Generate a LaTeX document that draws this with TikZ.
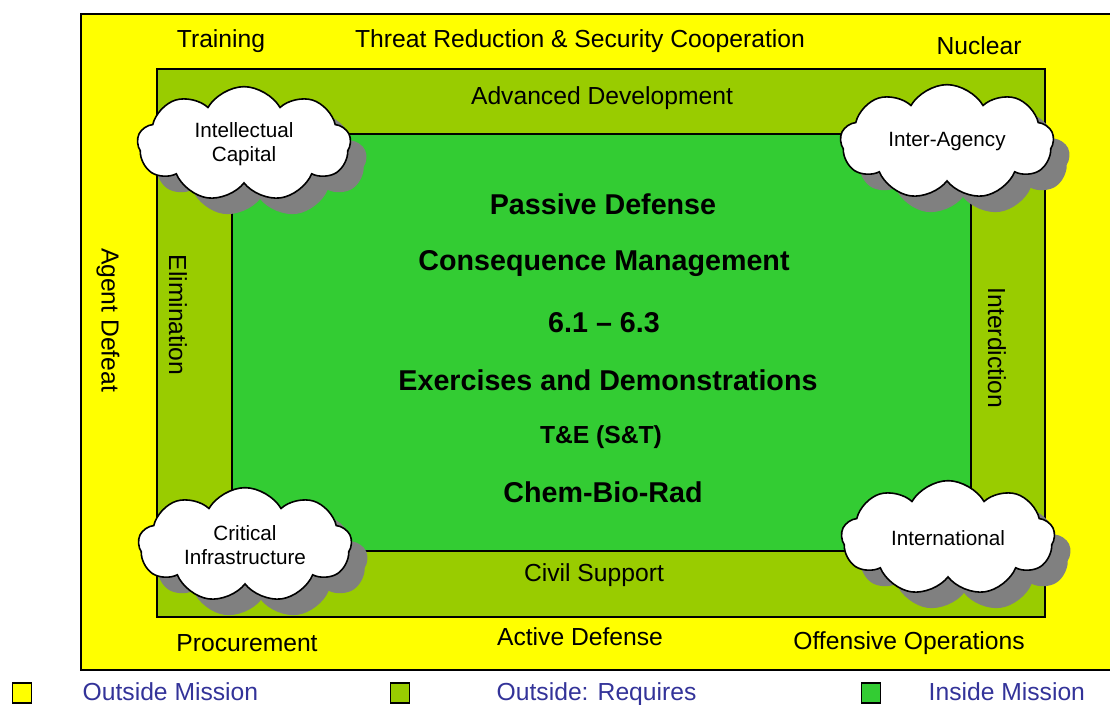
\documentclass[tikz,border=0pt]{standalone}
\usepackage{fontspec}
\setmainfont{Liberation Sans}
\usetikzlibrary{shapes.symbols, shadows, positioning}
\definecolor{outerYellow}{RGB}{255, 255, 0}
\definecolor{midGreen}{RGB}{153, 204, 0}
\definecolor{innerGreen}{RGB}{51, 204, 51}
\definecolor{legendBlue}{RGB}{51, 51, 153}
\definecolor{shadowGray}{RGB}{128, 128, 128}
\tikzset{
    ring_box/.style={
        draw=black,
        line width=1.5pt
    },
    ring_label/.style={
        text=black,
        font=\fontsize{18.5}{20}\selectfont
    },
    core_label/.style={
        text=black,
        font=\fontsize{21.5}{24}\selectfont\bfseries
    },
    cloud_node/.style={
        cloud,
        cloud puffs=9,
        cloud puff arc=120,
        cloud ignores aspect,
        draw=black,
        line width=1.2pt,
        fill=white,
        align=center,
        minimum width=160pt,
        minimum height=86pt,
        font=\fontsize{15.5}{18}\selectfont,
        drop shadow={shadow xshift=12pt, shadow yshift=-12pt, fill=shadowGray, opacity=1}
    },
    legend_key/.style={
        draw=black,
        line width=1pt,
        minimum width=14pt,
        minimum height=15pt,
        inner sep=0pt
    },
    legend_text/.style={
        text=legendBlue,
        anchor=base west,
        font=\fontsize{18.5}{20}\selectfont
    }
}

\begin{document}
\begin{tikzpicture}[x=0.75pt, y=-0.75pt]
    \useasboundingbox (0, 0) rectangle (1110, 704);
    \begin{scope}
        \clip (0, 0) rectangle (1110, 704);
        % the three rings
        \draw[ring_box, line width=2.2pt, fill=outerYellow] (81, 14) rectangle (1116, 670);
        \draw[ring_box, fill=midGreen] (157, 69) rectangle (1045, 617);
        \draw[ring_box, fill=innerGreen] (232, 134) rectangle (971, 551);
    \end{scope}

    % outside mission
    \node[ring_label] (training) at (221, 41) {Training};
    \node[ring_label] (threat) at (580, 41) {Threat Reduction \& Security Cooperation};
    \node[ring_label] (nuclear) at (979, 46) {Nuclear};
    \node[ring_label, rotate=-90] (agent) at (108, 320) {Agent Defeat};
    \node[ring_label] (procure) at (247, 643) {Procurement};
    \node[ring_label] (active) at (580, 637) {Active Defense};
    \node[ring_label] (offense) at (909, 643) {Offensive Operations};

    % outside: requires
    \node[ring_label] (advanced) at (602, 98) {Advanced Development};
    \node[ring_label, rotate=-90] (elim) at (178, 315) {Elimination};
    \node[ring_label, rotate=-90] (interdict) at (997, 348) {Interdiction};
    \node[ring_label] (civil) at (594, 575) {Civil Support};

    % inside mission
    \node[core_label] (passive) at (603, 204) {Passive Defense};
    \node[core_label] (conseq) at (604, 264) {Consequence Management};
    \node[core_label] (budget) at (604, 323) {6.1 -- 6.3};
    \node[core_label] (exercise) at (608, 380) {Exercises and Demonstrations};
    \node[core_label, font=\fontsize{18.5}{20}\selectfont\bfseries] (testeval) at (601, 437) {T\&E (S\&T)};
    \node[core_label] (cbr) at (603, 492) {Chem-Bio-Rad};

    % clouds
    \node[cloud_node] (intellect) at (244, 144) {Intellectual\\Capital};
    \node[cloud_node] (interagency) at (947, 142) {Inter-Agency};
    \node[cloud_node] (critical) at (245, 545) {Critical\\Infrastructure};
    \node[cloud_node] (intl) at (948, 538) {International};

    % legend
    \node[legend_key, fill=outerYellow] (keyOuter) at (22, 693) {};
    \node[legend_text] (txtOuter) at (78, 700) {Outside Mission};
    \node[legend_key, fill=midGreen] (keyMid) at (400, 693) {};
    \node[legend_text] (txtMid) at (492, 700) {Outside: Requires};
    \node[legend_key, fill=innerGreen] (keyInner) at (871, 693) {};
    \node[legend_text] (txtInner) at (924, 700) {Inside Mission};
\end{tikzpicture}
\end{document}
